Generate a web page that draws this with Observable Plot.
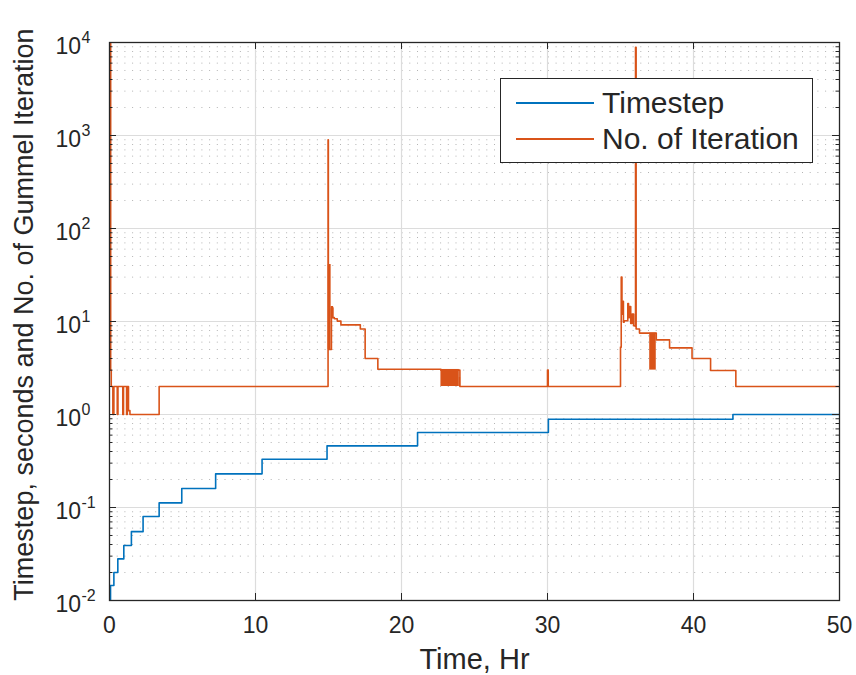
<!DOCTYPE html>
<html>
<head>
<meta charset="utf-8">
<script src="https://cdn.jsdelivr.net/npm/d3@7"></script>
<script src="https://cdn.jsdelivr.net/npm/@observablehq/plot@0.6"></script>
<style>
  body { margin: 0; background: #fff; font-family: "Liberation Sans", Arial, sans-serif; }
  #wrap { position: relative; width: 856px; height: 675px; }
  #legend { position: absolute; left: 500px; top: 78px; width: 313px; height: 85px; box-sizing: border-box;
            border: 1.3px solid #262626; background: #fff; }
  .row { position: absolute; left: 0; width: 100%; height: 36px; }
  .swatch { position: absolute; left: 15px; top: 17px; width: 78px; height: 2px; }
  .lab { position: absolute; left: 101px; top: 0; white-space: nowrap; font-size: 30px; color: #262626; line-height: 36px; }
</style>
</head>
<body>
<div id="wrap"></div>
<script>
// ---- data ----
const timestepTime  = [0, 0.07, 0.3, 0.57, 0.98, 1.5, 2.3, 3.4, 4.95, 7.27, 10.45, 14.9, 21.1, 30.06, 42.7, 50];
const timestepValue = [0.01, 0.0145, 0.02, 0.028, 0.039, 0.055, 0.08, 0.112, 0.16, 0.23, 0.33, 0.46, 0.64, 0.89, 1.0, 1.0];

const iterTime  = [0, 0.08, 0.12, 0.23, 0.30, 0.53, 0.58, 0.91, 0.96, 1.17, 1.22, 1.30, 1.40, 3.40,
                   14.97, 14.99, 15.2, 15.3, 15.4, 15.6, 15.85, 17.18, 17.51, 18.38, 22.7, 24.0, 30.0, 30.05,
                   35.0, 35.05, 35.10, 35.15, 35.2, 35.25, 35.5, 35.55, 35.6, 35.7, 35.8, 35.9, 36.0, 36.03, 36.07,
                   36.3, 37.0, 37.45, 38.36, 39.9, 41.17, 42.9, 50];
const iterValue = [10000, 3, 2, 1, 2, 1, 2, 1, 2, 1, 2, 1.1, 1, 2,
                   900, 5, 14, 11, 10.7, 10.1, 9.2, 8.3, 4.0, 3.07, 3.0, 2, 3, 2,
                   5.3, 30, 12, 16.5, 9.8, 10.2, 15.6, 11, 14.5, 9.5, 12, 9, 8.9, 8900, 8.3,
                   7.5, 7.5, 6.35, 5.2, 4.0, 2.97, 2, 2];

// fast oscillation regions (drawn as filled bands)
const bandStart = [14.98, 15.18, 22.7, 23.96, 37.0];
const bandEnd   = [15.18, 15.35, 23.96, 24.05, 37.45];
const bandLow   = [5, 10.7, 2, 2, 3];
const bandHigh  = [41, 14.5, 3.05, 2.5, 7.5];

const xTicks = [0, 10, 20, 30, 40, 50];
const yDecades = [0.01, 0.1, 1, 10, 100, 1000, 10000];
const yExponents = ["-2", "-1", "0", "1", "2", "3", "4"];
const seriesNames = ["Timestep", "No. of Iteration"];
const seriesColors = ["#0072BD", "#D95319"];
const xLabel = "Time, Hr";
const yLabel = "Timestep, seconds and No. of Gummel Iteration";

// ---- build tables ----
const timestep = timestepTime.map((t, i) => ({t, v: timestepValue[i]}));
const iter = iterTime.map((t, i) => ({t, v: iterValue[i]}));
const bands = bandStart.map((s, i) => ({x1: s, x2: bandEnd[i], y1: bandLow[i], y2: bandHigh[i]}));
const yMinor = d3.scaleLog().domain([0.01, 10000]).ticks().filter(d => !yDecades.some(D => Math.abs(d / D - 1) < 1e-9));

const W = 856, H = 675, mL = 109, mR = 17, mT = 42, mB = 75;
const pw = W - mL - mR, ph = H - mT - mB;
const ink = "#262626";
const font = "Liberation Sans, Arial, sans-serif";

const chart = Plot.plot({
  width: W, height: H,
  marginLeft: mL, marginRight: mR, marginTop: mT, marginBottom: mB,
  style: {fontFamily: font, background: "#fff", overflow: "visible"},
  x: {domain: [0, 50], axis: null},
  y: {type: "log", domain: [0.01, 10000], axis: null},
  marks: [
    Plot.ruleY(yMinor, {y: d => d, stroke: "#8c8c8c", strokeOpacity: 0.65, strokeDasharray: "1,6.7"}),
    Plot.ruleY(yDecades.slice(1, -1), {y: d => d, stroke: "#dcdcdc", strokeWidth: 1.2}),
    Plot.ruleX(xTicks.slice(1, -1), {x: d => d, stroke: "#dcdcdc", strokeWidth: 1.2}),
    Plot.rect(bands, {x1: "x1", x2: "x2", y1: "y1", y2: "y2", fill: seriesColors[1]}),
    Plot.line(iter, {x: "t", y: "v", curve: "step-after", stroke: seriesColors[1], strokeWidth: 1.6, clip: true}),
    Plot.line(timestep, {x: "t", y: "v", curve: "step-after", stroke: seriesColors[0], strokeWidth: 1.6, clip: true}),
    // ticks (inward, on all four sides)
    Plot.tickX(xTicks, {x: d => d, insetTop: ph - 7, stroke: ink}),
    Plot.tickX(xTicks, {x: d => d, insetBottom: ph - 7, stroke: ink}),
    Plot.tickY(yDecades, {y: d => d, insetRight: pw - 7, stroke: ink}),
    Plot.tickY(yDecades, {y: d => d, insetLeft: pw - 7, stroke: ink}),
    Plot.tickY(yMinor, {y: d => d, insetRight: pw - 3.5, stroke: ink}),
    Plot.tickY(yMinor, {y: d => d, insetLeft: pw - 3.5, stroke: ink}),
    Plot.frame({stroke: ink, strokeWidth: 1.3}),
    // tick labels
    Plot.text(xTicks, {x: d => d, text: d => String(d), frameAnchor: "bottom", lineAnchor: "middle", textAnchor: "middle", dy: 25.5, fontSize: 23, fill: ink}),
    Plot.text(yDecades, {y: d => d, text: () => "10", frameAnchor: "left", lineAnchor: "middle", textAnchor: "start", dx: -54, dy: 4.6, fontSize: 23, fill: ink}),
    Plot.text(yDecades, {y: d => d, text: (d, i) => yExponents[i], frameAnchor: "left", lineAnchor: "middle", textAnchor: "start", dx: -28, dy: -5, fontSize: 16, fill: ink}),
    // axis titles
    Plot.text([xLabel], {text: d => d, frameAnchor: "bottom", lineAnchor: "middle", textAnchor: "middle", dy: 59, fontSize: 29, fill: ink}),
    Plot.text([yLabel], {text: d => d, frameAnchor: "left", lineAnchor: "middle", textAnchor: "middle", dx: -85.5, dy: -7, rotate: -90, fontSize: 27, fill: ink})
  ]
});

const wrap = document.getElementById("wrap");
wrap.appendChild(chart);

// legend overlay
const legend = document.createElement("div");
legend.id = "legend";
seriesNames.forEach((name, i) => {
  const row = document.createElement("div");
  row.className = "row";
  row.style.top = (5.7 + i * 36.6) + "px";
  const sw = document.createElement("div");
  sw.className = "swatch";
  sw.style.background = seriesColors[i];
  const lab = document.createElement("div");
  lab.className = "lab";
  lab.textContent = name;
  row.appendChild(sw);
  row.appendChild(lab);
  legend.appendChild(row);
});
wrap.appendChild(legend);
</script>
</body>
</html>
